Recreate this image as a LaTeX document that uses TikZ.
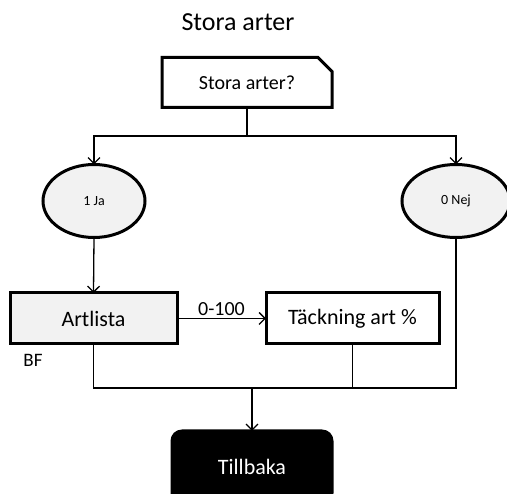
\documentclass[tikz,border=0pt]{standalone}
\usepackage{fontspec}
\setmainfont{Carlito}
\usetikzlibrary{arrows.meta,shapes.geometric,shapes.misc}
\definecolor{boxgray}{HTML}{F2F2F2}
\tikzset{
  thickbox/.style={draw=black,line width=3pt,outer sep=0pt,inner sep=0pt},
  rectbox/.style={thickbox,rectangle,minimum width=167pt,minimum height=51pt,font=\fontsize{22}{26}\selectfont},
  oval/.style={thickbox,ellipse,fill=boxgray,minimum height=73pt,font=\fontsize{14}{17}\selectfont},
  conn/.style={line width=1.3pt},
  arr/.style={conn,-{Straight Barb[length=6pt,width=12pt,line width=1.3pt]}},
}
\begin{document}
\begin{tikzpicture}[x=1pt,y=-1pt]
\useasboundingbox (0,0) rectangle (507,494);
\node[font=\fontsize{26}{30}\selectfont] (title) at (238,22) {Stora arter};
\node[thickbox,chamfered rectangle,chamfered rectangle corners=north east,chamfered rectangle xsep=7pt,chamfered rectangle ysep=7pt,minimum width=170pt,minimum height=50pt,font=\fontsize{20}{24}\selectfont] (q) at (247,82.5) {Stora arter?};
\node[oval,minimum width=102pt] (ja) at (94,201) {1 Ja};
\node[oval,minimum width=108pt] (nej) at (456,201) {0 Nej};
\node[rectbox,fill=boxgray] (art) at (93.5,318.5) {Artlista};
\node[rectbox,minimum width=173pt] (tack) at (352.5,318.5) {Täckning art \%};
\node[thickbox,fill=black,text=white,rounded corners=10pt,minimum width=160pt,minimum height=72pt,font=\fontsize{22}{26}\selectfont] (back) at (252,467) {Tillbaka};
\node[font=\fontsize{19}{22}\selectfont] (bf) at (33,360) {BF};
\coordinate (split) at (247,136);
\coordinate (join) at (252,388);
\draw[conn] (q.south) -- (split);
\draw[arr] (split) -| (ja.north);
\draw[arr] (split) -| (nej.north);
\draw[arr] (ja.south) -- (art.north);
\draw[arr] (art.east) -- node[above=-1pt,font=\fontsize{20}{24}\selectfont] (lbl) {0-100} (tack.west);
\draw[conn] (art.south) |- (join);
\draw[conn] (tack.south) |- (join);
\draw[conn] (nej.south) |- (join);
\draw[arr] (join) -- (back.north);
\end{tikzpicture}
\end{document}
